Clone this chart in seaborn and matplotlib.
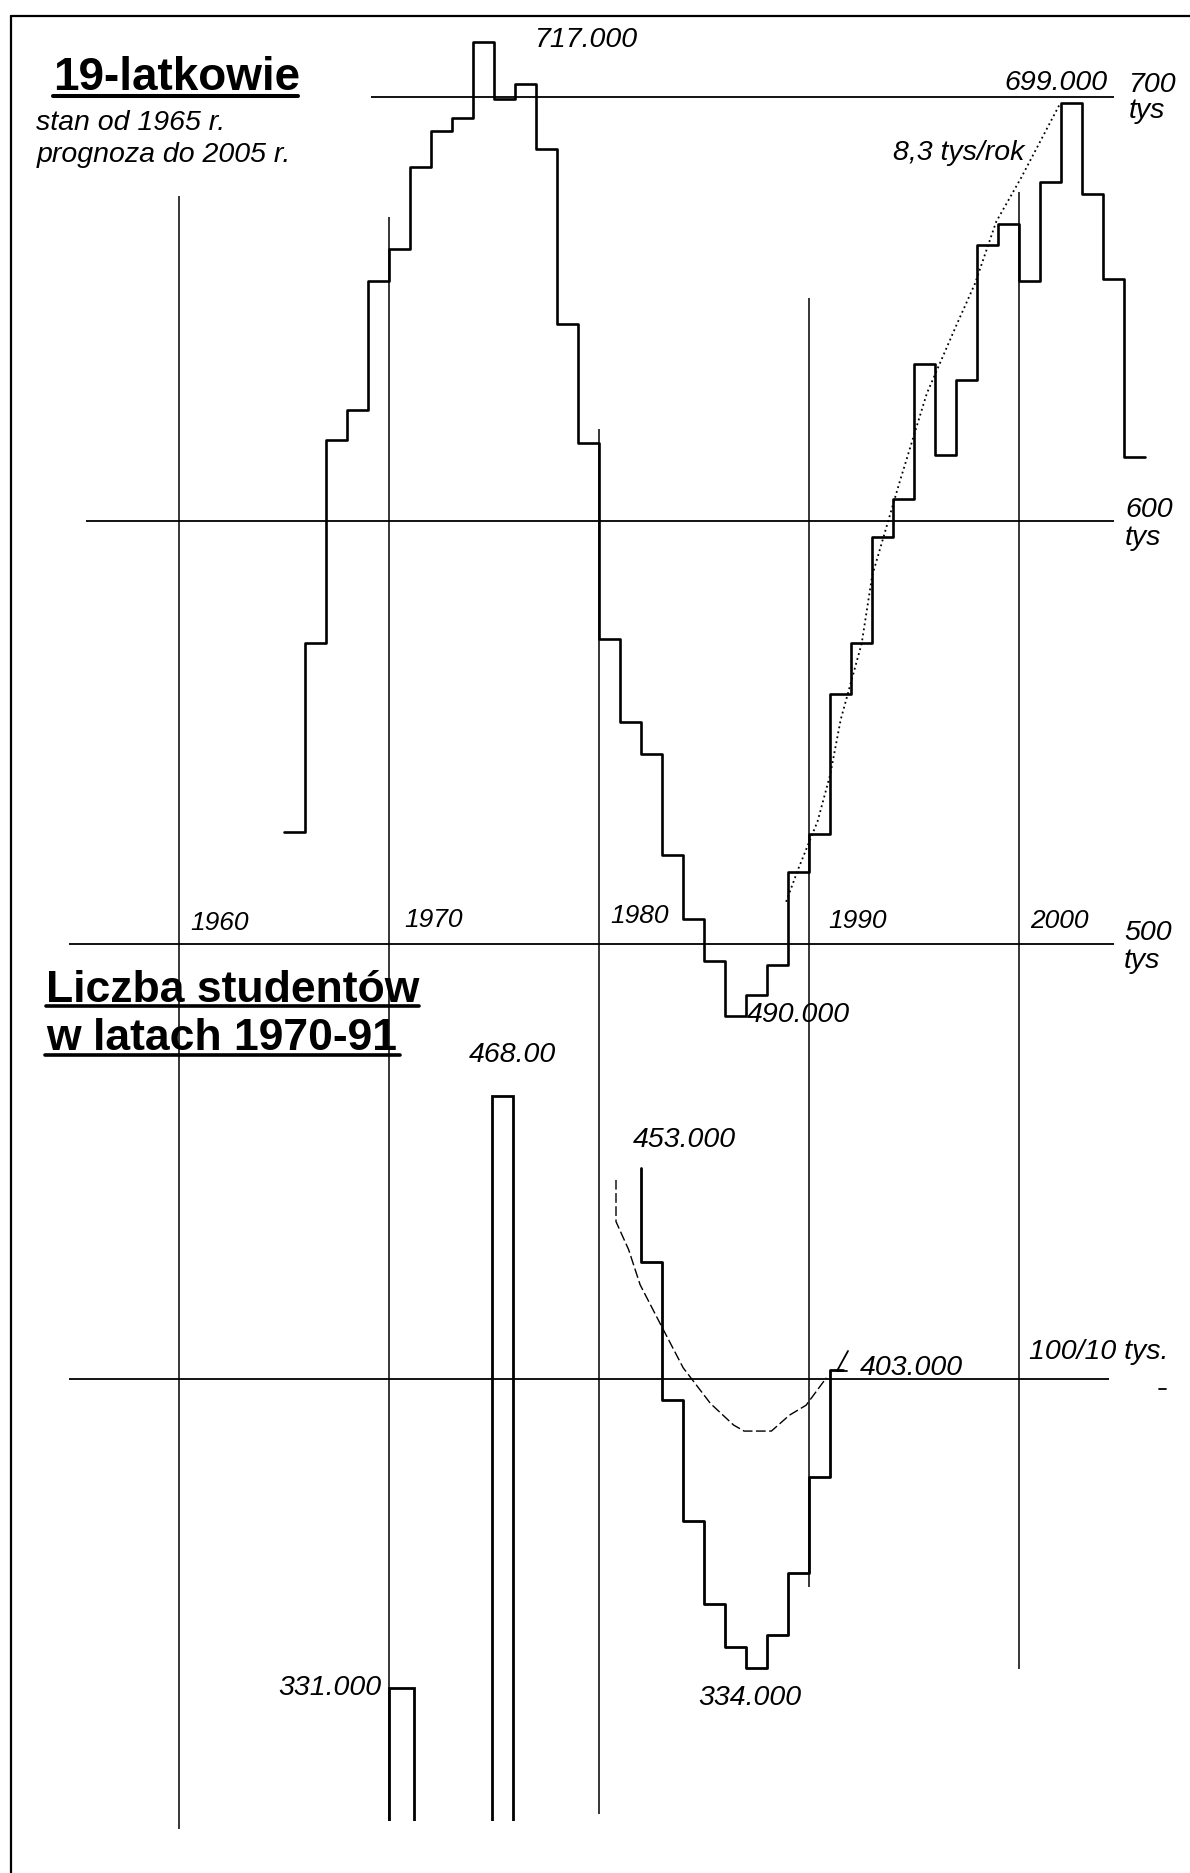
import matplotlib
matplotlib.use("Agg")
import matplotlib.pyplot as plt
from matplotlib.lines import Line2D
import seaborn as sns

# ---------------- data ----------------
# 19-latkowie (tys.), stan od 1965 r., prognoza do 2005 r.
years_19 = list(range(1965, 2006))
vals_19 = [526.5, 571, 619, 626, 656.5, 664, 683.5, 692, 695, 713,
           699.5, 703, 687.7, 646.4, 618.4, 572, 552.4, 545, 521, 506,
           496, 483, 488, 495, 517, 526, 559, 571, 596, 605,
           637, 615.4, 633.3, 665, 670, 656.5, 680, 698.5, 677, 657,
           615]

# dotted trend "8,3 tys/rok"
trend19_years = [1988.9, 1989.5, 1990.4, 1991.0, 1991.5, 1992.5, 1993.0,
                 1994.3, 1995.6, 1997.0, 1997.9, 1998.9, 2000.1, 2001.9]
trend19_vals = [510, 518, 529, 540, 553, 571, 587,
                609, 630, 646, 656, 670.5, 681, 698]

# Liczba studentow (tys.) w latach 1970-91
stud_years = [1982, 1982, 1983, 1984, 1985, 1986, 1987, 1988, 1989, 1990, 1991, 1991.6]
stud_vals = [449, 427, 395, 367, 347.5, 337.7, 332.6, 340.5, 354.7, 377.2, 402, 402]

stud_bar_start = [1970, 1974.9]
stud_bar_span = [1.2, 1.0]
stud_bar_vals = [328, 465.6]

stud_trend_years = [1980.8, 1980.8, 1981.4, 1981.95, 1982.87, 1984.0, 1985.3,
                    1986.4, 1986.9, 1988.2, 1989.06, 1989.85, 1990.82]
stud_trend_vals = [446.2, 436.5, 430, 421.8, 413.1, 402.5, 394.2,
                   389.2, 387.8, 387.8, 391.5, 393.8, 400.2]

ref_levels_19 = [700, 600, 500]
ref_level_stud = 400
grid_years = [1960, 1970, 1980, 1990, 2000]
year_labels = ["1960", "1970", "1980", "1990", "2000"]

# ---------------- layout ----------------
W, H = 1190, 1874
sns.set_theme(style="white")
plt.rcParams['font.family'] = ['Liberation Sans', 'DejaVu Sans']
plt.rcParams['text.color'] = 'black'

fig = plt.figure(figsize=(W / 100, H / 100), dpi=100)
fig.patch.set_facecolor("white")

PXY = 21.0          # px per year
X1960 = 179.2       # px of 1960
xlim = (1960 - X1960 / PXY, 1960 + (W - X1960) / PXY)

def yr(px):
    return 1960 + (px - X1960) / PXY

# upper axes: whole figure, 500 tys at 945.1 px, 4.2355 px per tys
ax1 = fig.add_axes([0, 0, 1, 1])
s1 = 4.2355
ax1.set_xlim(*xlim)
ax1.set_ylim(500 - (H - 945.1) / s1, 500 + 945.1 / s1)
ax1.axis("off")
ax1.patch.set_visible(False)

# lower axes: bottom edge at 1822 px (clip), 400 tys at 1379.6 px
s2 = 4.301
bot = 1822
ax2 = fig.add_axes([0, 1 - bot / H, 1, bot / H])
ax2.set_xlim(*xlim)
ax2.set_ylim(400 - (bot - 1379.6) / s2, 400 + 1379.6 / s2)
ax2.axis("off")
ax2.patch.set_visible(False)

# vertical year lines
grid_top = [197, 218, 430, 299, 193]
grid_bot = [1830, 1822, 1815, 1588, 1670]
ax1.vlines(grid_years, [1 - b / H for b in grid_bot], [1 - t / H for t in grid_top],
           transform=ax1.get_xaxis_transform(), color="black", lw=1.1)

# horizontal reference lines
ax1.hlines(ref_levels_19, [yr(371), yr(86), yr(69)], [yr(1114)] * 3,
           color="black", lw=1.3)
ax2.hlines(ref_level_stud, yr(69), yr(1109), color="black", lw=1.3)

# 19-latkowie step line
x19 = years_19 + [years_19[-1] + 1]
y19 = vals_19 + [vals_19[-1]]
sns.lineplot(x=x19, y=y19, ax=ax1, estimator=None, sort=False,
             drawstyle="steps-post", color="black", linewidth=1.9)
ax1.plot(trend19_years, trend19_vals, color="black", lw=1.3,
         linestyle=(0, (1, 1.8)))

# students
sns.lineplot(x=stud_years, y=stud_vals, ax=ax2, estimator=None, sort=False,
             drawstyle="steps-post", color="black", linewidth=2.0)
ax2.bar(stud_bar_start, stud_bar_vals, width=stud_bar_span, align="edge",
        fill=False, edgecolor="black", linewidth=2.0)
ax2.plot(stud_trend_years, stud_trend_vals, color="black", lw=1.0,
         linestyle=(0, (7, 2.5)))
ax1.set_xlim(*xlim)
ax2.set_xlim(*xlim)
ax1.axis("off")
ax2.axis("off")

# ---------------- texts ----------------
def ftxt(px, py, s, size=20.5, **kw):
    fig.text(px / W, 1 - py / H, s, fontsize=size, ha="left", va="baseline",
             color="black", **kw)

def fline(x0, y0, x1, y1, lw):
    fig.add_artist(Line2D([x0 / W, x1 / W], [1 - y0 / H, 1 - y1 / H],
                          color="black", lw=lw, transform=fig.transFigure))

ftxt(53, 90, "19-latkowie", size=33, weight="bold")
fline(53, 97, 297.5, 97, 2.9)
ftxt(36.5, 130, "stan od 1965 r.", size=20.5, style="italic")
ftxt(36.5, 162, "prognoza do 2005 r.", size=20.5, style="italic")

ftxt(46, 1002, "Liczba studentów", size=32, weight="bold")
fline(46, 1007, 419, 1007, 2.6)
ftxt(46, 1050, "w latach 1970-91", size=32, weight="bold")
fline(45, 1055.5, 400, 1055.5, 2.6)

value_texts = [
    ("717.000", 534, 46.7), ("699.000", 1004, 90),
    ("700", 1128.5, 92), ("tys", 1128.5, 118),
    ("8,3 tys/rok", 893, 160),
    ("600", 1125, 517), ("tys", 1125, 545),
    ("500", 1124, 940), ("tys", 1124, 968),
    ("490.000", 746.7, 1021.7),
    ("468.00", 469, 1062),
    ("453.000", 632.5, 1147.4),
    ("403.000", 860, 1375),
    ("100/10 tys.", 1029, 1359),
    ("334.000", 698.7, 1705),
    ("331.000", 278, 1695),
]
for s, x, y in value_texts:
    ftxt(x, y, s, size=20.5, style="italic")

year_pos = [(190, 930), (404, 927), (610, 923), (828, 928), (1030, 928)]
for s, (x, y) in zip(year_labels, year_pos):
    ftxt(x, y, s, size=19, style="italic")

# small pointer near 403.000
fline(848, 1352, 837, 1372, 1.3)
fline(837, 1372, 847, 1372, 1.3)
# scan dash at right
fline(1159, 1390, 1166, 1390, 1.3)

# frame (top and left)
fline(11, 17, W, 17, 1.6)
fline(11, 17, 11, H, 1.6)

fig.savefig("out.png", dpi=100, facecolor="white")
